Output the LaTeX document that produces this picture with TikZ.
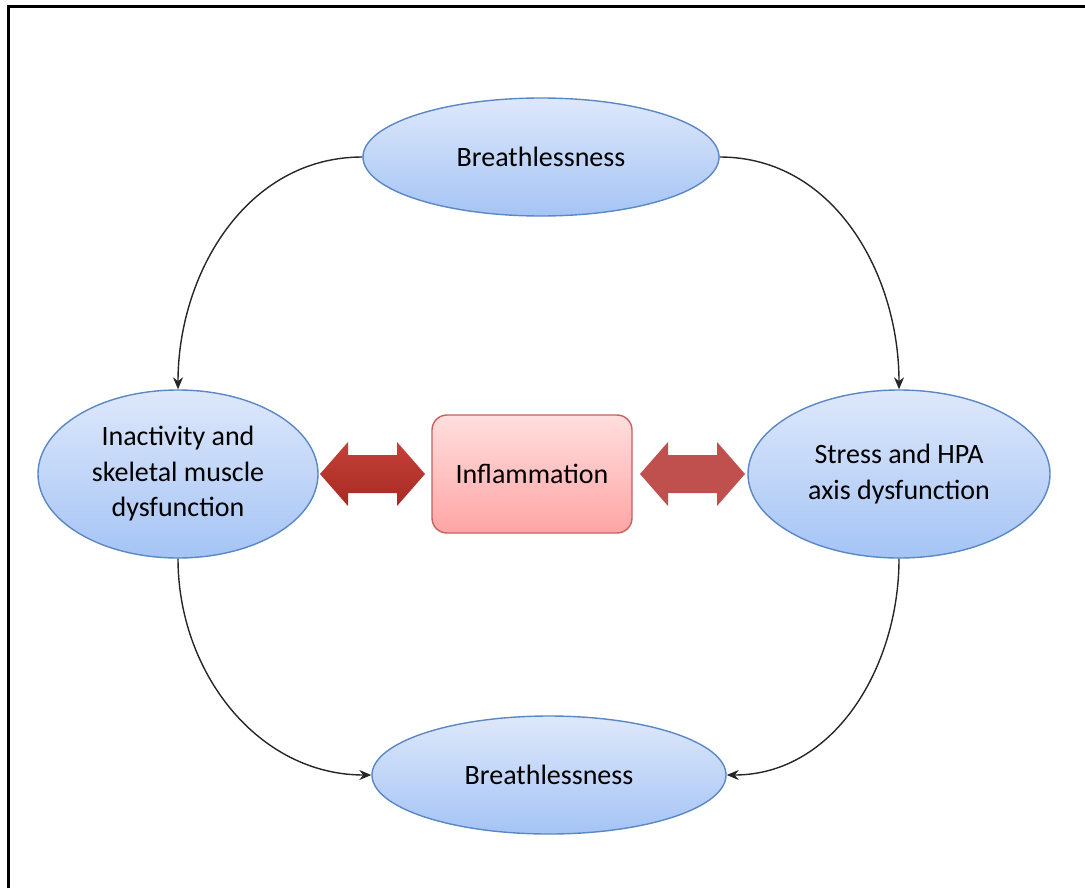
\documentclass[tikz,border=0pt]{standalone}
\usepackage{fontspec}
\setmainfont{Carlito}
\usetikzlibrary{shapes.geometric,arrows.meta}
\definecolor{elldraw}{HTML}{5A87C5}
\definecolor{elltop}{HTML}{DEE8FB}
\definecolor{ellbot}{HTML}{A5C4F5}
\definecolor{boxdraw}{HTML}{C8605C}
\definecolor{boxtop}{HTML}{FFDEDE}
\definecolor{boxbot}{HTML}{FFA5A5}
\definecolor{redA}{HTML}{C4413A}
\definecolor{redB}{HTML}{A82A22}
\definecolor{redC}{HTML}{C0504D}
\tikzset{
  state/.style={ellipse, draw=elldraw, line width=0.7pt, top color=elltop,
    bottom color=ellbot, inner sep=0pt, align=center,
    font=\fontsize{14}{17.75}\selectfont},
  core/.style={rectangle, rounded corners=7.5pt, draw=boxdraw, line width=0.7pt,
    top color=boxtop, bottom color=boxbot, minimum width=100pt,
    minimum height=59pt, font=\fontsize{14}{17.75}\selectfont},
  conn/.style={line width=0.7pt, black!85, -{Stealth[length=6pt,width=5pt]}}
}
\begin{document}
\begin{tikzpicture}[x=0.5pt,y=-0.5pt]
\useasboundingbox (0,0) rectangle (1085,888);
% frame
\draw [line width=1.5pt] (8,888)--(8,7)--(1085,7);
% nodes
\node[state, minimum width=178pt, minimum height=59pt] (top) at (541,157) {Breathlessness};
\node[state, minimum width=140pt, minimum height=84pt] (left) at (178,474)
  {Inactivity and\\skeletal muscle\\dysfunction};
\node[state, minimum width=151pt, minimum height=84pt] (right) at (899,474)
  {Stress and HPA\\axis dysfunction};
\node[state, minimum width=177pt, minimum height=59pt] (bottom) at (549,775) {Breathlessness};
\node[core] (infl) at (532,474) {Inflammation};
% block arrows
\shade [top color=redA, bottom color=redB]
  (320,474)--(348,442)--(348,455)--(397,455)--(397,442)--(425,474)
  --(397,506)--(397,493)--(348,493)--(348,506)--cycle;
\fill [redC]
  (640,474)--(668,442)--(668,455)--(717,455)--(717,442)--(745,474)
  --(717,506)--(717,493)--(668,493)--(668,506)--cycle;
% connectors
\draw [conn] (top.west) to[out=180,in=90] (left.north);
\draw [conn] (top.east) to[out=0,in=90] (right.north);
\draw [conn] (left.south) to[out=-90,in=180] (bottom.west);
\draw [conn] (right.south) to[out=-90,in=0] (bottom.east);
\end{tikzpicture}
\end{document}
